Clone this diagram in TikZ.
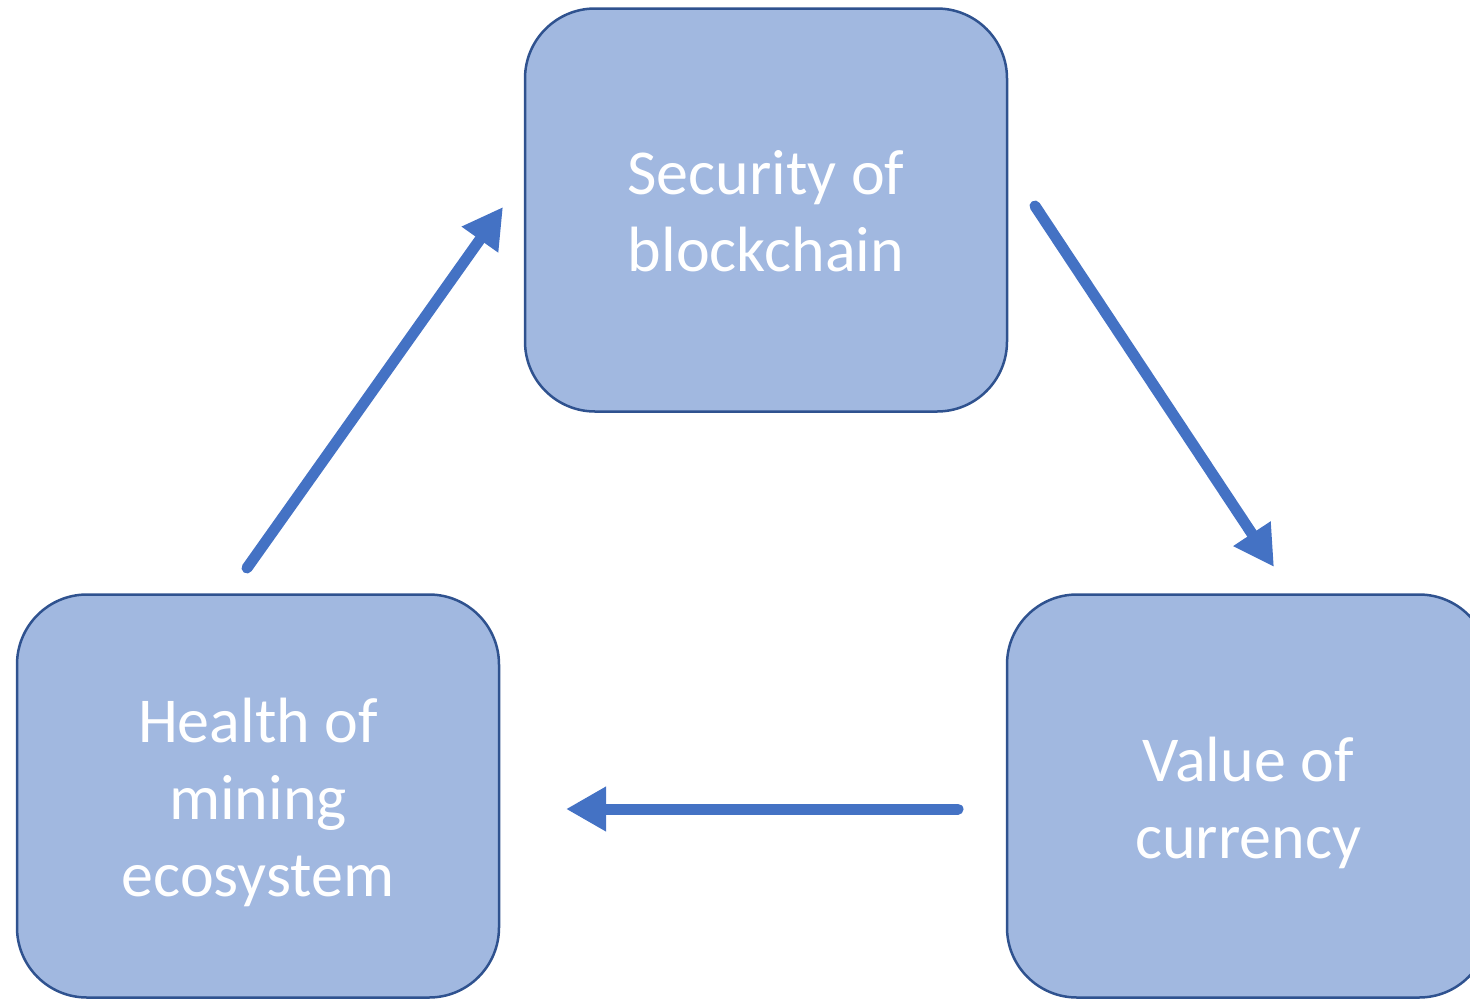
\documentclass[tikz,border=0pt]{standalone}
\usepackage{fontspec}
\setmainfont{Carlito}
\usetikzlibrary{arrows.meta}
\definecolor{boxfill}{HTML}{A1B8E0}
\definecolor{boxline}{HTML}{2F528F}
\definecolor{arrowblue}{HTML}{4472C4}
\begin{document}
\begin{tikzpicture}[x=1pt,y=-1pt,
  blk/.style={draw=boxline, line width=2.5pt, fill=boxfill, rounded corners=70pt,
    minimum width=482pt, minimum height=403pt, inner sep=0pt},
  txt/.style={text=white, align=center, inner sep=0pt, font=\fontsize{64}{77}\selectfont},
  flow/.style={draw=arrowblue, line width=11pt, line cap=round,
    -{Triangle[length=40pt,width=42pt]}}]
\useasboundingbox (0,0) rectangle (1470,999);
\begin{scope}
\clip (0,0) rectangle (1470,999);
\node[blk] (sec) at (766,210) {};
\node[blk] (hlt) at (258,796) {};
\node[blk] (val) at (1248,796) {};
\end{scope}
\node[txt] (sect) at (766,211) {Security of\\blockchain};
\node[txt] (hltt) at (258,802) {Health of\\mining\\ecosystem};
\node[txt] (valt) at (1248,803) {Value of\\currency};
\coordinate (a1s) at (247,568);
\coordinate (a1e) at (503,207);
\coordinate (a2s) at (1035,206);
\coordinate (a2e) at (1274,567);
\coordinate (a3s) at (958,809);
\coordinate (a3e) at (566,809);
\draw[flow] (a1s) -- (a1e);
\draw[flow] (a2s) -- (a2e);
\draw[flow] (a3s) -- (a3e);
\end{tikzpicture}
\end{document}
